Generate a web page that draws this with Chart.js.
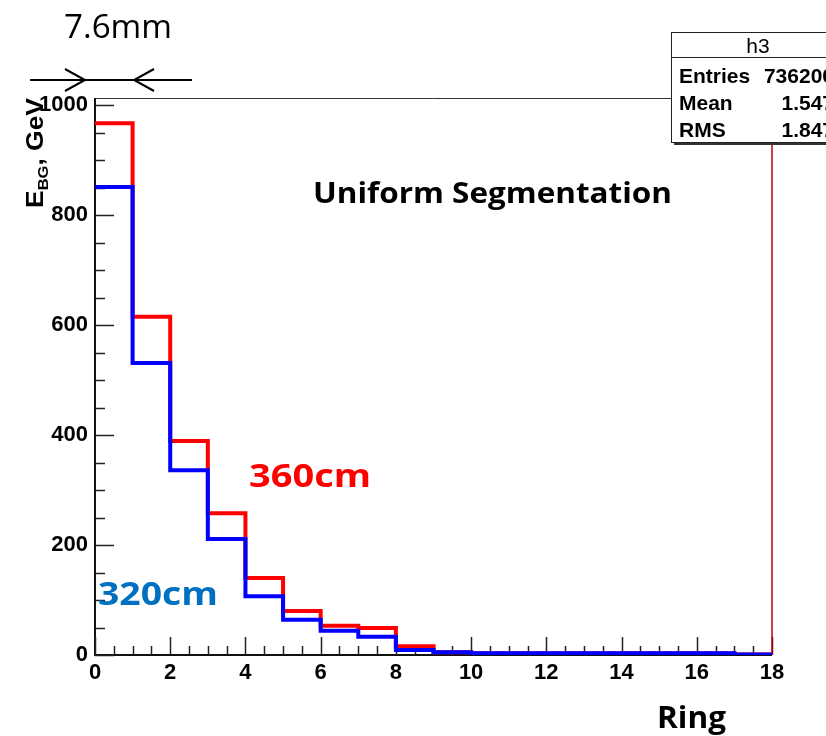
<!DOCTYPE html>
<html>
<head>
<meta charset="utf-8">
<script src="https://cdn.jsdelivr.net/npm/chart.js@4.4.1/dist/chart.umd.min.js"></script>
<style>
  html, body { margin: 0; padding: 0; background: #fff; }
  #wrap { width: 826px; height: 736px; overflow: hidden; }
</style>
</head>
<body>
<div id="wrap"><canvas id="grafico" width="826" height="736"></canvas></div>
<script>
// bin edges of the Ring axis
const ringEdges = [0, 1, 2, 3, 4, 5, 6, 7, 8, 9, 10, 11, 12, 13, 14, 15, 16, 17, 18];
// E_BG per ring (GeV)
const ebg360 = [967, 615, 389, 258, 140, 80, 53, 49, 16, 5, 3, 3, 3, 3, 3, 3, 3, 1];
const ebg320 = [851, 531, 336, 211, 107, 64, 44, 33, 9, 5, 3, 3, 3, 3, 3, 3, 3, 1];
const yTicks = [0, 200, 400, 600, 800, 1000];
const xTicks = [0, 2, 4, 6, 8, 10, 12, 14, 16, 18];
const yMax = 1013;
const statsLabels = ['Entries', 'Mean', 'RMS'];
const statsValues = ['736200', '1.547', '1.847'];

const rootFont = '"Liberation Sans", Arial, sans-serif';
const noteFont = '"Open Sans", "Noto Sans", sans-serif';

function histPoints(vals) {
  const pts = vals.map((v, i) => ({ x: ringEdges[i], y: v }));
  pts.push({ x: ringEdges[vals.length], y: vals[vals.length - 1] });
  return pts;
}

// draw text stretched horizontally to a given width (slide text is wider than the font)
function fitText(ctx, text, x, base, width) {
  const w = ctx.measureText(text).width;
  ctx.save();
  ctx.translate(x, base);
  ctx.scale(width / w, 1);
  ctx.fillText(text, 0, 0);
  ctx.restore();
}

const rootFrame = {
  id: 'rootFrame',
  beforeDatasetsDraw(chart) {
    const { ctx, chartArea: a, scales: { x, y } } = chart;
    ctx.save();
    // frame
    ctx.strokeStyle = '#333';
    ctx.lineWidth = 1;
    ctx.beginPath();
    ctx.moveTo(a.left, a.top + 0.5);
    ctx.lineTo(a.right, a.top + 0.5);
    ctx.stroke();
    // axes
    ctx.strokeStyle = '#111';
    ctx.lineWidth = 2;
    ctx.beginPath();
    ctx.moveTo(a.left, a.top);
    ctx.lineTo(a.left, a.bottom);
    ctx.lineTo(a.right, a.bottom);
    ctx.stroke();
    // ticks, pointing inwards like ROOT
    ctx.lineWidth = 1.5;
    ctx.strokeStyle = '#222';
    ctx.beginPath();
    for (let v = 0; v <= 1000; v += 50) {
      const py = Math.round(y.getPixelForValue(v)) + 0.5;
      const len = v % 200 === 0 ? 19 : 10;
      ctx.moveTo(a.left, py);
      ctx.lineTo(a.left + len, py);
    }
    for (let v = 0; v <= 18; v += 0.5) {
      const px = Math.round(x.getPixelForValue(v)) + 0.5;
      const len = v % 2 === 0 ? 18 : 9;
      ctx.moveTo(px, a.bottom);
      ctx.lineTo(px, a.bottom - len);
    }
    ctx.stroke();
    ctx.restore();
  },
  afterDraw(chart) {
    const { ctx } = chart;
    ctx.save();

    // y title: E_BG, GeV (stretched along its length like the slide)
    ctx.translate(43, 208);
    ctx.rotate(-Math.PI / 2);
    ctx.fillStyle = '#000';
    ctx.textBaseline = 'alphabetic';
    const bigF = 'bold 24px ' + rootFont, smallF = 'bold 15px ' + rootFont;
    ctx.font = bigF;
    const wE = ctx.measureText('E').width, wRest = ctx.measureText(', GeV').width;
    ctx.font = smallF;
    const wBG = ctx.measureText('BG').width;
    ctx.scale(110 / (wE + wBG + wRest), 1);
    ctx.font = bigF;
    ctx.fillText('E', 0, 0);
    ctx.font = smallF;
    ctx.fillText('BG', wE, 5);
    ctx.font = bigF;
    ctx.fillText(', GeV', wE + wBG, 0);
    ctx.setTransform(1, 0, 0, 1, 0, 0);

    // 7.6mm marker
    ctx.fillStyle = '#000';
    ctx.textAlign = 'left';
    ctx.font = '33px ' + noteFont;
    fitText(ctx, '7.6mm', 64, 38, 108);
    ctx.strokeStyle = '#000';
    ctx.lineWidth = 2;
    ctx.beginPath();
    ctx.moveTo(30, 80); ctx.lineTo(192, 80);
    ctx.moveTo(65, 69); ctx.lineTo(85, 80); ctx.lineTo(65, 91);
    ctx.moveTo(154, 69); ctx.lineTo(134, 80); ctx.lineTo(154, 91);
    ctx.stroke();

    // notes
    ctx.fillStyle = '#000';
    ctx.font = 'bold 29px ' + noteFont;
    fitText(ctx, 'Uniform Segmentation', 313, 203, 359);
    ctx.font = 'bold 33px ' + noteFont;
    ctx.fillStyle = '#ff0000';
    fitText(ctx, '360cm', 249, 487, 122);
    ctx.fillStyle = '#0070c0';
    fitText(ctx, '320cm', 98, 605, 120);
    ctx.fillStyle = '#000';
    ctx.font = 'bold 31px ' + noteFont;
    fitText(ctx, 'Ring', 657, 728, 69);

    // stats box
    const bx = 671, by = 32, bw = 176, bh = 110;
    ctx.fillStyle = '#333';
    ctx.fillRect(bx + 3, by + 3, bw, bh);
    ctx.fillStyle = '#fff';
    ctx.fillRect(bx, by, bw, bh);
    ctx.strokeStyle = '#222';
    ctx.lineWidth = 1;
    ctx.strokeRect(bx + 0.5, by + 0.5, bw, bh);
    ctx.beginPath();
    ctx.moveTo(bx, by + 25.5); ctx.lineTo(bx + bw, by + 25.5);
    ctx.stroke();
    ctx.fillStyle = '#000';
    ctx.font = '21px ' + rootFont;
    ctx.textAlign = 'center';
    ctx.fillText('h3', bx + 87, by + 21);
    ctx.font = 'bold 21px ' + rootFont;
    statsLabels.forEach((lab, i) => {
      const base = 83 + i * 27;
      ctx.textAlign = 'left';
      ctx.fillText(lab, 679, base);
      ctx.textAlign = 'right';
      ctx.fillText(statsValues[i], 834, base);
    });
    ctx.restore();
  }
};

const ctx = document.getElementById('grafico').getContext('2d');

new Chart(ctx, {
  type: 'line',
  data: {
    datasets: [
      {
        label: '360cm',
        data: histPoints(ebg360),
        borderColor: '#ff0000',
        borderWidth: 4,
        stepped: true,
        pointRadius: 0,
        fill: false,
        order: 2
      },
      {
        label: '320cm',
        data: histPoints(ebg320),
        borderColor: '#0000ff',
        borderWidth: 4,
        stepped: true,
        pointRadius: 0,
        fill: false,
        order: 1
      },
      {
        label: 'edge',
        data: [{ x: ringEdges[ringEdges.length - 1], y: 0 }, { x: ringEdges[ringEdges.length - 1], y: 1100 }],
        borderColor: '#c00000',
        borderWidth: 1.5,
        pointRadius: 0,
        fill: false,
        clip: false,
        order: 3
      }
    ]
  },
  options: {
    responsive: false,
    animation: false,
    devicePixelRatio: 1,
    layout: { padding: { top: 98, right: 54, left: 0, bottom: 0 } },
    plugins: { legend: { display: false }, tooltip: { enabled: false } },
    scales: {
      x: {
        type: 'linear',
        min: 0,
        max: 18,
        grid: { display: false, drawTicks: false },
        border: { display: false },
        afterBuildTicks(scale) { scale.ticks = xTicks.map(v => ({ value: v })); },
        afterFit(scale) { scale.height = 81; },
        ticks: {
          color: '#000',
          padding: 5,
          maxRotation: 0,
          autoSkip: false,
          callback: v => String(v),
          font: { family: rootFont, size: 22, weight: 'bold' }
        }
      },
      y: {
        min: 0,
        max: yMax,
        grid: { display: false, drawTicks: false },
        border: { display: false },
        afterBuildTicks(scale) { scale.ticks = yTicks.map(v => ({ value: v })); },
        afterFit(scale) { scale.width = 95; },
        ticks: {
          color: '#000',
          padding: 7,
          callback: v => String(v),
          font: { family: rootFont, size: 22, weight: 'bold' }
        }
      }
    }
  },
  plugins: [rootFrame]
});
</script>
</body>
</html>
